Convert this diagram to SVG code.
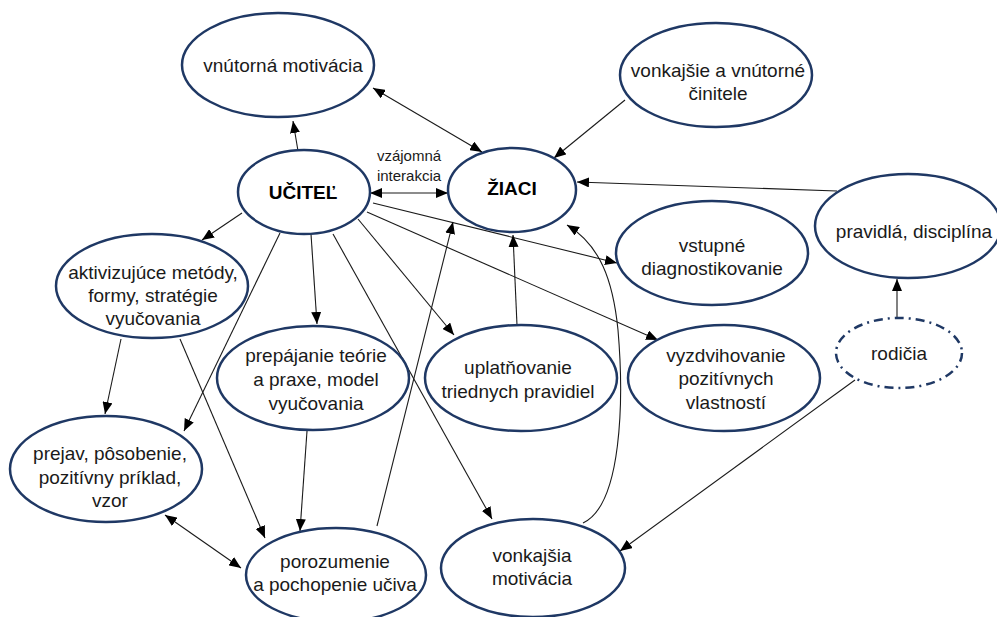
<svg xmlns="http://www.w3.org/2000/svg" width="997" height="617" viewBox="0 0 997 617">
  <defs>
    <style>
      .node ellipse { fill: #ffffff; stroke: #1f3864; stroke-width: 2.5; }
      .node.dashed ellipse { stroke-dasharray: 9 5 2 5; }
      .node text { font-family: "Liberation Sans", Arial, sans-serif; font-size: 19px; fill: #1a1a1a; text-anchor: middle; }
      .node text.bold { font-weight: bold; fill: #000000; }
      .edges path, .edges line { fill: none; stroke: #1a1a1a; stroke-width: 1.1; }
      .edge-label { font-family: "Liberation Sans", Arial, sans-serif; font-size: 15px; fill: #1a1a1a; text-anchor: middle; }
    </style>
    <marker id="arrow" viewBox="0 0 12 10" refX="12" refY="5" markerWidth="12" markerHeight="10" markerUnits="userSpaceOnUse" orient="auto-start-reverse">
      <path d="M0,0 L12,5 L0,10 Z" fill="#000000"/>
    </marker>
  </defs>
  <rect width="997" height="617" fill="#ffffff"/>

  <!-- connectors -->
  <g class="edges" id="connectors">
    <line x1="298" y1="151" x2="293" y2="121" marker-end="url(#arrow)"/>
    <line x1="373" y1="88" x2="482" y2="152" marker-start="url(#arrow)" marker-end="url(#arrow)"/>
    <line x1="625" y1="100" x2="554" y2="158" marker-end="url(#arrow)"/>
    <line x1="837" y1="191" x2="577" y2="182" marker-end="url(#arrow)"/>
    <line x1="370" y1="193" x2="448" y2="193" marker-start="url(#arrow)" marker-end="url(#arrow)"/>
    <line x1="373" y1="203" x2="617" y2="263" marker-end="url(#arrow)"/>
    <line x1="367" y1="212" x2="658" y2="340" marker-end="url(#arrow)"/>
    <line x1="358" y1="219" x2="454" y2="335" marker-end="url(#arrow)"/>
    <line x1="311" y1="234" x2="317" y2="324" marker-end="url(#arrow)"/>
    <line x1="333" y1="234" x2="492" y2="519" marker-end="url(#arrow)"/>
    <line x1="280" y1="233" x2="184" y2="431" marker-end="url(#arrow)"/>
    <line x1="242" y1="213" x2="202" y2="240" marker-end="url(#arrow)"/>
    <line x1="121" y1="339" x2="105" y2="414" marker-end="url(#arrow)"/>
    <line x1="180" y1="339" x2="265" y2="538" marker-end="url(#arrow)"/>
    <line x1="307" y1="431" x2="300" y2="531" marker-end="url(#arrow)"/>
    <line x1="165" y1="515" x2="241" y2="568" marker-start="url(#arrow)" marker-end="url(#arrow)"/>
    <line x1="377" y1="526" x2="453" y2="222" marker-end="url(#arrow)"/>
    <line x1="517" y1="325" x2="513" y2="235" marker-end="url(#arrow)"/>
    <path d="M583,523 C622,505 624,400 618,330 C613,280 600,245 567,225" marker-end="url(#arrow)"/>
    <line x1="897" y1="319" x2="897" y2="279" marker-end="url(#arrow)"/>
    <line x1="855" y1="380" x2="620" y2="551" marker-end="url(#arrow)"/>
    <text class="edge-label" x="409" y="161">vzájomná</text>
    <text class="edge-label" x="409" y="181">interakcia</text>
  </g>

  <!-- nodes -->
  <g class="node" id="vnutorna-motivacia">
    <ellipse cx="278" cy="65" rx="96" ry="52"/>
    <text x="283" y="72">vnútorná motivácia</text>
  </g>
  <g class="node" id="vonkajsie-vnutorne-cinitele">
    <ellipse cx="716" cy="75" rx="96" ry="52"/>
    <text x="718" y="77">vonkajšie a vnútorné</text>
    <text x="718" y="100">činitele</text>
  </g>
  <g class="node" id="ucitel">
    <ellipse cx="304" cy="192" rx="66" ry="42"/>
    <text class="bold" x="303" y="199">UČITEĽ</text>
  </g>
  <g class="node" id="ziaci">
    <ellipse cx="512" cy="190" rx="64" ry="42"/>
    <text class="bold" x="512" y="195">ŽIACI</text>
  </g>
  <g class="node" id="pravidla-disciplina">
    <ellipse cx="908" cy="226" rx="93" ry="52"/>
    <text x="914" y="238">pravidlá, disciplína</text>
  </g>
  <g class="node" id="vstupne-diagnostikovanie">
    <ellipse cx="712" cy="253" rx="96" ry="52"/>
    <text x="712" y="252">vstupné</text>
    <text x="712" y="275">diagnostikovanie</text>
  </g>
  <g class="node" id="aktivizujuce-metody">
    <ellipse cx="152" cy="286" rx="96" ry="52"/>
    <text x="153" y="279">aktivizujúce metódy,</text>
    <text x="153" y="302">formy, stratégie</text>
    <text x="153" y="325">vyučovania</text>
  </g>
  <g class="node" id="prepajanie-teorie-praxe">
    <ellipse cx="313" cy="378" rx="96" ry="52"/>
    <text x="316" y="362">prepájanie teórie</text>
    <text x="316" y="386">a praxe, model</text>
    <text x="316" y="410">vyučovania</text>
  </g>
  <g class="node" id="uplatnovanie-pravidiel">
    <ellipse cx="521" cy="378" rx="96" ry="53"/>
    <text x="518" y="374">uplatňovanie</text>
    <text x="518" y="398">triednych pravidiel</text>
  </g>
  <g class="node" id="vyzdvihovanie-vlastnosti">
    <ellipse cx="724" cy="378" rx="96" ry="53"/>
    <text x="726" y="362">vyzdvihovanie</text>
    <text x="726" y="385">pozitívnych</text>
    <text x="726" y="409">vlastností</text>
  </g>
  <g class="node dashed" id="rodicia">
    <ellipse cx="899" cy="353" rx="63" ry="35"/>
    <text x="899" y="360">rodičia</text>
  </g>
  <g class="node" id="prejav-posobenie">
    <ellipse cx="106" cy="469" rx="96" ry="53"/>
    <text x="110" y="460">prejav, pôsobenie,</text>
    <text x="110" y="484">pozitívny príklad,</text>
    <text x="110" y="507">vzor</text>
  </g>
  <g class="node" id="porozumenie-uciva">
    <ellipse cx="336" cy="575" rx="90" ry="47"/>
    <text x="335" y="568">porozumenie</text>
    <text x="335" y="591">a pochopenie učiva</text>
  </g>
  <g class="node" id="vonkajsia-motivacia">
    <ellipse cx="533" cy="568" rx="92" ry="49"/>
    <text x="532" y="562">vonkajšia</text>
    <text x="532" y="585">motivácia</text>
  </g>
</svg>
